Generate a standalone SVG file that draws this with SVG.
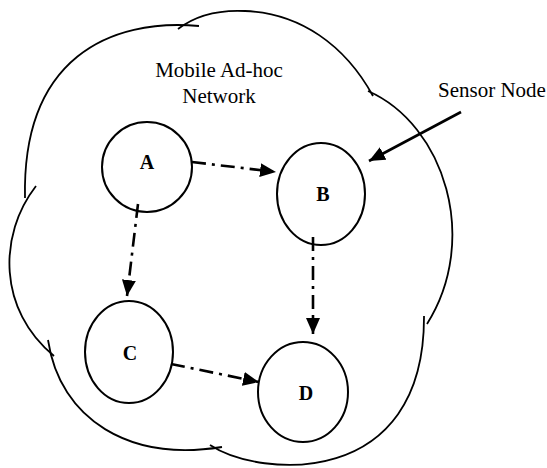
<svg xmlns="http://www.w3.org/2000/svg" width="547" height="468" viewBox="0 0 547 468">
<defs>
<style>
.cloud{fill:none;stroke:#000;stroke-width:1.8;stroke-linecap:butt}
.node{fill:none;stroke:#000;stroke-width:2}
.lbl{font-family:"Liberation Serif","Times New Roman",serif;font-size:20px;font-weight:bold;fill:#000;text-anchor:middle}
.txt{font-family:"Liberation Serif","Times New Roman",serif;font-size:21px;fill:#000}
.dash{fill:none;stroke:#000;stroke-width:2.6;stroke-dasharray:14 6 3 6}
.solid{fill:none;stroke:#000;stroke-width:2.6}
</style>
<marker id="ah" viewBox="0 0 16 14" refX="16" refY="7" markerWidth="16" markerHeight="14" markerUnits="userSpaceOnUse" orient="auto">
<path d="M0,0 L16,7 L0,14 Z" fill="#000"/>
</marker>
</defs>
<g id="cloud">
<path class="cloud" d="M199,26 C110,18 22,58 25,198"/>
<path class="cloud" d="M178,29 C200,12 225,10 245,11 C300,13 345,45 373,96"/>
<path class="cloud" d="M368,91 C445,125 480,240 427,324"/>
<path class="cloud" d="M424,316 C425,490 260,478 210,445"/>
<path class="cloud" d="M222,447 C130,462 60,420 48,340"/>
<path class="cloud" d="M54,356 C-2,310 -2,235 36,186"/>
</g>
<g id="title">
<text class="txt" x="219" y="77" text-anchor="middle">Mobile Ad-hoc</text>
<text class="txt" x="219" y="103" text-anchor="middle">Network</text>
</g>
<g id="sensor-label">
<text class="txt" x="438" y="97">Sensor Node</text>
</g>
<g id="connectors">
<line class="solid" x1="461" y1="112" x2="369" y2="161" marker-end="url(#ah)"/>
<line class="dash" x1="192" y1="162" x2="276" y2="172" marker-end="url(#ah)"/>
<line class="dash" x1="138" y1="204" x2="127" y2="296" marker-end="url(#ah)"/>
<line class="dash" x1="313" y1="237" x2="313" y2="334" marker-end="url(#ah)"/>
<line class="dash" x1="171" y1="364" x2="259" y2="382" marker-end="url(#ah)"/>
</g>
<g id="node-A">
<ellipse class="node" cx="147" cy="167" rx="45" ry="45"/>
<text class="lbl" x="147" y="169">A</text>
</g>
<g id="node-B">
<ellipse class="node" cx="321" cy="194" rx="44" ry="51"/>
<text class="lbl" x="323" y="201">B</text>
</g>
<g id="node-C">
<ellipse class="node" cx="129" cy="352" rx="44" ry="51"/>
<text class="lbl" x="130" y="360">C</text>
</g>
<g id="node-D">
<ellipse class="node" cx="303" cy="392" rx="45" ry="50"/>
<text class="lbl" x="306" y="400">D</text>
</g>
</svg>
